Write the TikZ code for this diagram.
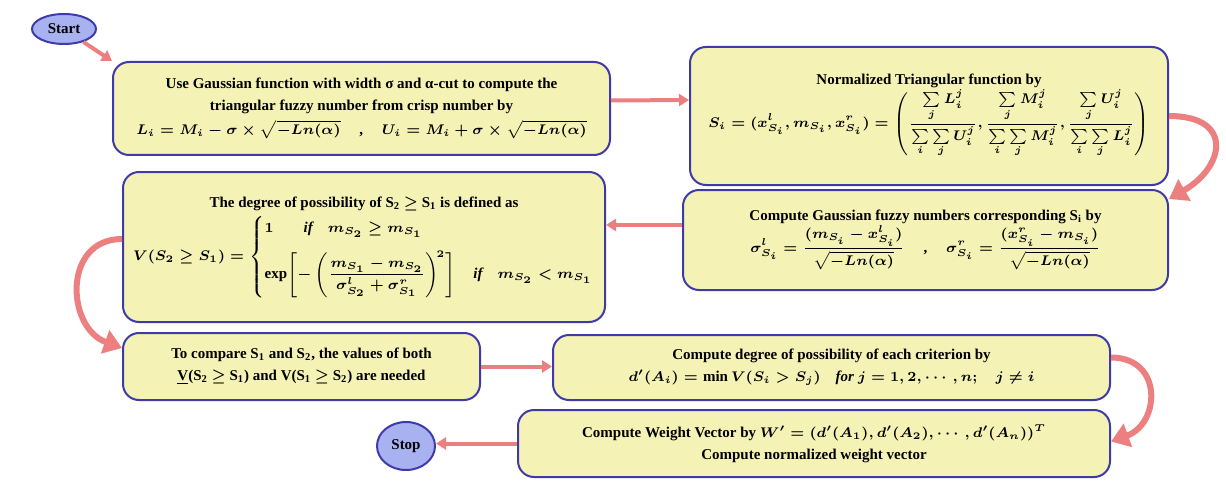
\documentclass[tikz,border=0pt]{standalone}
\usepackage{amsmath}
\usepackage{fontspec}
\setmainfont{Liberation Serif}
\usetikzlibrary{arrows.meta,shapes.geometric}

\definecolor{boxfill}{RGB}{245,242,182}
\definecolor{boxline}{RGB}{62,58,170}
\definecolor{termfill}{RGB}{168,178,240}
\definecolor{arrowred}{RGB}{236,128,128}

\begin{document}
\begin{tikzpicture}[
    x=0.5pt, y=-0.5pt,
    procbox/.style={rectangle, rounded corners=8pt, draw=boxline, line width=1pt, fill=boxfill,
        align=center, inner sep=2pt, font=\fontsize{7.5}{11}\selectfont\bfseries\boldmath},
    termnode/.style={ellipse, draw=boxline, line width=1pt, fill=termfill, inner sep=0pt,
        font=\fontsize{7.5}{9}\selectfont\bfseries},
    flowarrow/.style={draw=arrowred, line width=2pt, -{Triangle[length=5pt,width=6pt]}},
    bendarrow/.style={draw=arrowred, line width=3pt, -{Triangle[length=9pt,width=12pt]}}
]
    \useasboundingbox (0,0) rectangle (1226,481);

    \node[termnode, minimum width=32pt, minimum height=15pt] (start) at (64,29) {Start};
    \node[procbox, minimum width=248.5pt, minimum height=46.5pt] (gauss) at (361.5,108.5)
        {Use Gaussian function with width σ and α-cut to compute the\\
         triangular fuzzy number from crisp number by\\[1pt]
         $L_i = M_i - \sigma\times\sqrt{-Ln(\alpha)}$ \quad , \quad $U_i = M_i + \sigma\times\sqrt{-Ln(\alpha)}$};
    \node[procbox, minimum width=239pt, minimum height=69pt] (norm) at (929,116)
        {Normalized Triangular function by\\
         $\displaystyle S_i = (x^l_{S_i}, m_{S_i}, x^r_{S_i}) =
          \left(\frac{\sum\limits_j L^j_i}{\sum\limits_i\sum\limits_j U^j_i},
          \frac{\sum\limits_j M^j_i}{\sum\limits_i\sum\limits_j M^j_i},
          \frac{\sum\limits_j U^j_i}{\sum\limits_i\sum\limits_j L^j_i}\right)$};
    \node[procbox, minimum width=242.5pt, minimum height=50pt] (gfuzzy) at (925.5,240)
        {Compute Gaussian fuzzy numbers corresponding S\textsubscript{i} by\\
         $\displaystyle \sigma^l_{S_i} = \frac{(m_{S_i} - x^l_{S_i})}{\sqrt{-Ln(\alpha)}}$ \quad , \quad
         $\displaystyle \sigma^r_{S_i} = \frac{(x^r_{S_i} - m_{S_i})}{\sqrt{-Ln(\alpha)}}$};
    \node[procbox, minimum width=241pt, minimum height=75pt] (degree) at (364,247)
        {The degree of possibility of S\textsubscript{2} $\geq$ S\textsubscript{1} is defined as\\[2pt]
         $V(S_2 \geq S_1) = \left\{\begin{array}{@{}l@{}}
            1\hspace{2em}\mathit{if}\quad m_{S_2}\geq m_{S_1}\\[6pt]
            \exp\!\left[-\left(\dfrac{m_{S_1}-m_{S_2}}{\sigma^l_{S_2}+\sigma^r_{S_1}}\right)^{\!2}\right]
            \quad\mathit{if}\quad m_{S_2} < m_{S_1}
         \end{array}\right.$};
    \node[procbox, minimum width=178.5pt, minimum height=33.5pt] (compare) at (301.5,366.5)
        {To compare S\textsubscript{1} and S\textsubscript{2}, the values of both\\
         \underline{V}(S\textsubscript{2} $\geq$ S\textsubscript{1}) and V(S\textsubscript{1} $\geq$ S\textsubscript{2}) are needed};
    \node[procbox, minimum width=278.5pt, minimum height=32.5pt] (possib) at (831.5,367.5)
        {Compute degree of possibility of each criterion by\\
         $d'(A_i) = \min V(S_i > S_j) \quad \mathit{for}\ j = 1,2,\cdots,n;\quad j \neq i$};
    \node[procbox, minimum width=296pt, minimum height=33.5pt] (weight) at (814,443.5)
        {Compute Weight Vector by $W' = (d'(A_1), d'(A_2), \cdots, d'(A_n))^T$\\
         Compute normalized weight vector};
    \node[termnode, minimum width=29pt, minimum height=24pt] (stop) at (406,446) {Stop};

    % connectors
    \draw[flowarrow] (start) -- (gauss.north west);
    \draw[flowarrow] ([yshift=4pt]gauss.east) -- ([yshift=8pt]norm.west);
    \draw[bendarrow] (norm.east) to[out=0, in=30, looseness=2] ([yshift=-5pt]gfuzzy.north east);
    \draw[flowarrow] ([yshift=7.5pt]gfuzzy.west) -- ([yshift=11pt]degree.east);
    \draw[bendarrow] ([yshift=4pt]degree.west) to[out=180, in=160, looseness=1.4] ([yshift=-8pt]compare.north west);
    \draw[flowarrow] (compare.east) -- (compare.east -| possib.west);
    \draw[bendarrow] ([yshift=5pt]possib.east) to[out=0, in=20, looseness=1.6] ([yshift=1pt]weight.east);
    \draw[flowarrow] (weight.west) -- (weight.west -| stop.east);
\end{tikzpicture}
\end{document}
